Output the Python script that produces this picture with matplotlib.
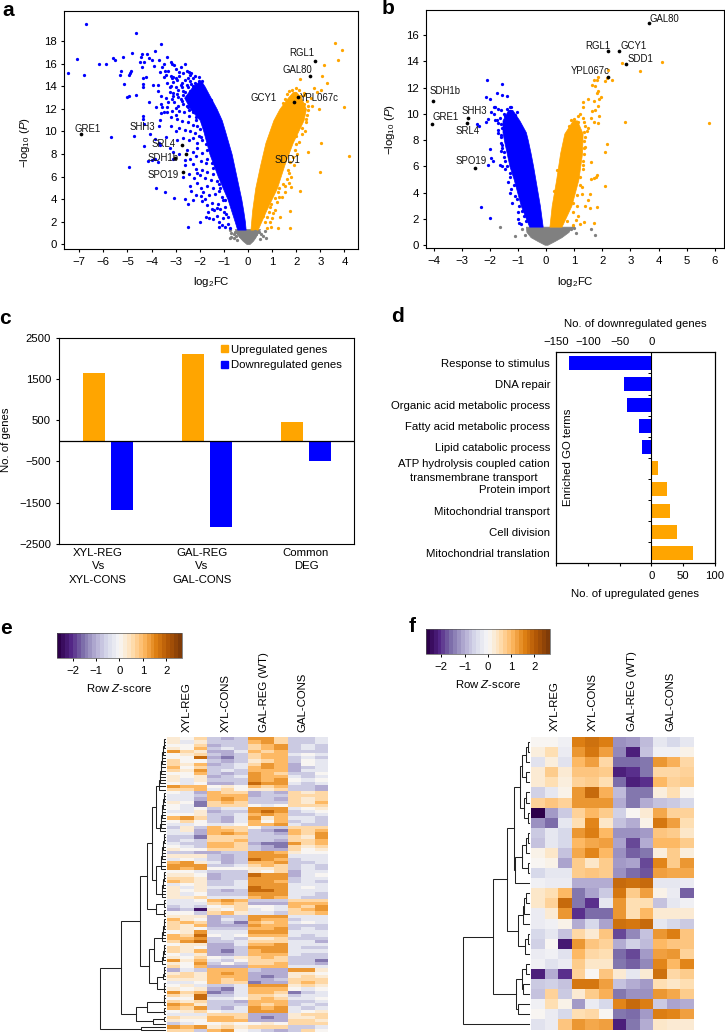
import matplotlib
matplotlib.use("Agg")
import matplotlib.pyplot as plt
import numpy as np
from matplotlib.cm import ScalarMappable
from matplotlib.colors import Normalize
from matplotlib.patches import Patch

W, H = 725, 1032
ORANGE = "#FFA500"
BLUE = "#0000FF"
GREY = "#808080"
FONT = 8.2

plt.rcParams["font.family"] = ["Liberation Sans", "DejaVu Sans"]
plt.rcParams["font.size"] = FONT
plt.rcParams["mathtext.fontset"] = "custom"
plt.rcParams["mathtext.rm"] = "Liberation Sans"
plt.rcParams["mathtext.it"] = "Liberation Sans:italic"
plt.rcParams["mathtext.bf"] = "Liberation Sans:bold"
plt.rcParams["axes.linewidth"] = 0.8
plt.rcParams["xtick.major.size"] = 2.5
plt.rcParams["ytick.major.size"] = 2.5
plt.rcParams["xtick.major.pad"] = 3
plt.rcParams["ytick.major.pad"] = 3

# panel a: dense core of each cloud as edges per level, loose points listed
a_down_level = [1.3, 2, 3, 4, 6, 8, 10, 11, 12, 13, 14, 14.5]
a_down_outer = [-0.45, -0.55, -0.7, -0.85, -1.25, -1.6, -1.85, -2.0, -2.4, -2.65, -2.3, -2.0]
a_down_inner = [-0.1, -0.13, -0.2, -0.28, -0.48, -0.68, -0.95, -1.09, -1.3, -1.55, -1.8, -1.95]
a_up_level = [1.3, 3, 5, 7, 9, 11, 12, 13, 13.5]
a_up_inner = [0.1, 0.17, 0.3, 0.5, 0.72, 1.05, 1.3, 1.65, 1.85]
a_up_outer = [0.4, 0.75, 1.2, 1.5, 1.85, 2.3, 2.4, 2.2, 2.0]
a_grey_level = [0.02, 0.3, 0.6, 1.0, 1.35]
a_grey_left = [-0.06, -0.22, -0.35, -0.5, -0.55]
a_grey_right = [0.06, 0.2, 0.3, 0.4, 0.5]

a_down = [
    (-6.7, 19.5), (-4.65, 18.7), (-3.6, 17.75), (-7.1, 16.45), (-7.45, 15.2), (-6.8, 15), (-6.2, 16), (-5.9, 16),
    (-5.6, 16.5), (-5.5, 16.3), (-5.2, 16.6), (-5.25, 15.35), (-5.3, 15.05), (-4.8, 17), (-4.85, 15.4), (-4.9, 15.2),
    (-4.95, 15), (-5.15, 14.25), (-4.95, 13.15), (-5.0, 13.05), (-4.65, 13.25), (-4.5, 16.2), (-4.45, 16.6),
    (-4.4, 16.9), (-4.2, 16.9), (-4.1, 16.5), (-4, 16.3), (-3.85, 17.1), (-3.7, 16.3), (-4.35, 14.7), (-4.35, 14.2),
    (-4.35, 13.9), (-4.3, 16.2), (-4.4, 15.7), (-4.25, 14.8), (-4.1, 12.6), (-4.35, 11.4), (-4.35, 11.1), (-4.3, 10.7),
    (-3.95, 14.1), (-3.75, 14.1), (-3.75, 13.6), (-3.8, 12.2), (-3.6, 12.4), (-3.55, 12.2), (-3.6, 11.6), (-3.5, 11.7),
    (-3.65, 11), (-3.35, 11.7), (-3.7, 10.5), (-5.7, 9.5), (-4.75, 9.6), (-4.3, 8.7), (-4.05, 9.8), (-3.85, 9.3),
    (-3.7, 9.0), (-3.65, 8.8), (-3.25, 8.5), (-3.4, 9.5), (-3.1, 8.2), (-3.1, 7.6), (-4.0, 7.5), (-3.85, 7.6),
    (-4.15, 7.4), (-3.75, 7.3), (-4.95, 6.85), (-3.8, 5.0), (-3.45, 4.6), (-3.05, 4.1), (-2.6, 4.05), (-2.5, 3.6),
    (-2.5, 1.5), (-2.0, 2.0), (-3.2, 16.2), (-3.05, 15.9), (-3.0, 15.5), (-2.8, 15.7), (-2.6, 16.0), (-2.7, 15.2),
    (-2.45, 15.3), (-2.4, 15.0), (-2.35, 15.2), (-3.3, 15.4), (-3.5, 16.0), (-3.45, 15.4), (-3.65, 15.3), (-3.9, 15.8),
    (-3.2, 14.9), (-3.15, 14.7), (-3.1, 14.8), (-3.0, 14.7), (-2.95, 14.6), (-2.85, 14.9), (-2.75, 14.3), (-2.6, 14.6),
    (-2.5, 14.7), (-2.4, 14.5), (-2.35, 14.2), (-2.3, 14.0), (-3.1, 14.4), (-3.2, 14.0), (-3.25, 13.9), (-3.0, 13.9),
    (-2.9, 13.7), (-2.75, 13.9), (-2.6, 13.5), (-2.5, 13.9), (-2.4, 13.6), (-2.2, 14.3), (-2.15, 13.8), (-2.05, 14.5),
    (-2.0, 14.4), (-1.95, 14.2), (-3.25, 13.5), (-3.1, 13.4), (-2.95, 13.3), (-2.7, 13.2), (-2.5, 13.15), (-2.45, 12.9),
    (-2.25, 13.0), (-2.8, 12.9), (-3.15, 12.9), (-3.3, 12.65), (-2.9, 12.3), (-2.7, 12.4), (-2.55, 12.3), (-2.4, 12.5),
    (-2.25, 12.2), (-2.1, 12.6), (-2.0, 12.0), (-1.85, 12.4), (-1.8, 12.8), (-1.65, 13.0), (-1.55, 12.8), (-3.15, 11.8),
    (-3.0, 11.5), (-2.85, 11.8), (-2.65, 11.7), (-2.45, 11.4), (-2.3, 11.7), (-2.15, 11.3), (-2.95, 11.1), (-2.75, 10.9),
    (-2.5, 10.8), (-2.3, 10.6), (-2.1, 10.5), (-2.85, 10.3), (-2.6, 10.1), (-2.4, 10.0),
    (-2.2, 9.9), (-2.05, 9.6), (-2.7, 9.4), (-2.45, 9.2), (-2.3, 9.4), (-2.1, 9.0),
    (-1.9, 9.2), (-2.55, 8.4), (-2.3, 8.2), (-2.1, 8.5), (-1.9, 8.1), (-1.7, 8.4),
    (-2.4, 7.6), (-2.15, 7.8), (-1.95, 7.4), (-1.75, 7.2), (-2.6, 7.0), (-2.3, 7.1), (-2.15, 6.7),
    (-1.9, 6.6), (-1.7, 6.4), (-1.45, 6.2), (-2.7, 6.0), (-2.45, 6.2), (-2.0, 6.1), (-1.8, 5.9), (-1.55, 5.7),
    (-2.4, 5.2), (-2.1, 5.4), (-1.95, 5.0), (-1.7, 5.2), (-1.45, 5.0), (-1.2, 5.3), (-2.35, 4.7),
    (-2.15, 4.4), (-1.85, 4.6), (-1.6, 4.4), (-1.35, 4.5), (-1.2, 4.7), (-2.3, 3.9), (-1.9, 3.8), (-1.7, 3.5),
    (-1.5, 3.7), (-1.25, 3.6), (-1.05, 3.9), (-1.5, 3.1), (-1.4, 3.0), (-1.3, 3.2), (-1.15, 3.1), (-0.95, 3.3),
    (-1.75, 2.4), (-1.6, 2.3), (-1.3, 2.5), (-1.2, 2.0), (-1.05, 2.3), (-0.9, 2.7), (-0.85, 1.8), (-0.95, 1.5),
    (-0.75, 1.4), (-1.0, 2.9), (-1.1, 4.2), (-1.3, 5.6), (-1.45, 6.8), (-1.7, 7.6), (-1.75, 8.9), (-1.95, 9.5),
    (-2.0, 10.2), (-2.15, 11.0), (-2.45, 11.9), (-2.75, 12.7), (-2.9, 13.05), (-2.7, 13.6), (-2.55, 14.1), (-2.3, 14.7),
    (-2.2, 14.9), (-2.05, 14.8), (-1.9, 14.5), (-2.8, 14.1), (-3.0, 12.1), (-3.4, 13.0), (-3.35, 14.3), (-3.5, 14.8),
    (-3.4, 15.0), (-3.6, 13.1), (-3.35, 12.2), (-3.2, 11.3), (-3.2, 10.5), (-3.0, 10.0), (-2.95, 9.2), (-2.85, 8.0),
    (-2.6, 7.5), (-2.25, 5.9), (-2.1, 6.3), (-1.95, 4.3), (-1.8, 4.0), (-1.65, 2.9), (-1.45, 2.2), (-1.1, 1.7),
    (-1.2, 1.5), (-0.85, 2.4), (-0.95, 3.9), (-1.15, 5.0), (-1.5, 7.2), (-1.9, 10.8), (-2.1, 11.7), (-2.5, 12.2),
    (-3.05, 12.6), (-3.1, 13.15), (-3.55, 15.7), (-3.35, 16.6), (-3.15, 16.0), (-2.85, 15.3), (-2.55, 15.4),
]
a_up = [
    (3.61, 17.88), (3.9, 17.2), (3.72, 16.37), (3.17, 15.9), (3.08, 14.95), (2.17, 14.63), (3.26, 14.33), (2.0, 13.83),
    (2.75, 13.89), (3.03, 13.68), (2.88, 13.48), (1.84, 13.68), (2.32, 13.24), (3.98, 12.2), (2.95, 11.97), (2.64, 12.26),
    (3.04, 8.95), (2.48, 8.19), (4.19, 7.86), (2.97, 6.38), (1.78, 5.11), (2.17, 4.7), (1.73, 2.98), (1.73, 1.48),
    (1.26, 1.48), (0.97, 1.57), (0.77, 1.42), (1.33, 2.45), (1.05, 2.75), (1.12, 3.04), (0.77, 2.45), (0.98, 2.3),
    (1.19, 3.78), (1.4, 4.22), (1.53, 4.67), (0.95, 3.6), (1.3, 5.0), (1.45, 5.3), (1.6, 5.8), (1.7, 6.3),
    (1.65, 6.6), (1.75, 7.3), (1.85, 7.7), (1.95, 8.4), (2.0, 8.9), (2.1, 9.1), (2.25, 9.8), (2.25, 10.3),
    (2.4, 10.8), (2.45, 11.5), (2.5, 11.9), (2.3, 12.4), (2.45, 12.7), (2.6, 13.0), (2.3, 13.4), (2.15, 13.1),
    (1.7, 13.55), (1.6, 13.3), (1.55, 12.9), (1.45, 12.5), (2.4, 11.1), (2.35, 10.0), (2.0, 9.6), (1.9, 7.0),
    (1.8, 6.0), (1.55, 5.2), (1.3, 4.2), (1.1, 4.1), (0.85, 2.9), (0.7, 2.0), (0.9, 3.3), (1.25, 4.6),
    (2.1, 13.7), (1.95, 13.4), (2.5, 12.3), (2.05, 8.0), (1.7, 5.4), (0.6, 2.5), (0.9, 2.0),
]
a_grey = [
    (-0.75, 1.25), (-0.7, 1.0), (-0.75, 0.55), (-0.7, 0.6), (-0.6, 0.55), (-0.55, 1.1), (-0.5, 0.75), (-0.45, 0.4),
    (-0.4, 1.0), (-0.35, 0.7), (0.35, 0.9), (0.45, 1.1), (0.55, 0.9), (0.7, 1.2), (0.75, 0.55), (0.5, 0.5),
    (0.6, 0.7), (-0.6, 0.9), (0.3, 1.2),
]
a_genes = ["GRE1", "SHH3", "SRL4", "SDH1b", "SPO19", "SDD1", "RGL1", "GAL80", "GCY1", "YPL067c"]
a_gene_x = [-6.92, -2.56, -2.75, -3.03, -2.7, 1.5, 2.78, 2.57, 1.9, 2.06]
a_gene_y = [9.78, 8.03, 8.8, 7.62, 6.41, 7.9, 16.27, 14.9, 12.6, 13.09]
a_offset = [(6, 5.3), (-44, 27), (-17.7, 0.7), (-11.7, 0.7), (-20, -3), (3.3, -4.7), (-13.3, 8), (-12.7, 5.7), (-30.7, 3.7), (21.3, -1.7)]

# panel b
b_down_level = [1.4, 3, 5, 6, 7, 8, 8.6, 9.5, 10.3]
b_down_outer = [-0.6, -0.9, -1.15, -1.3, -1.4, -1.5, -1.55, -1.55, -1.35]
b_down_inner = [-0.12, -0.22, -0.38, -0.46, -0.55, -0.65, -0.72, -0.95, -1.2]
b_up_level = [1.4, 3, 5, 7, 8.5, 9.5]
b_up_inner = [0.12, 0.2, 0.36, 0.5, 0.65, 0.95]
b_up_outer = [0.55, 0.9, 1.15, 1.28, 1.3, 1.1]
b_grey_level = [0.02, 0.3, 0.6, 1.0, 1.4]
b_grey_left = [-0.05, -0.3, -0.55, -0.7, -0.72]
b_grey_right = [0.05, 0.3, 0.55, 0.8, 0.9]

b_down = [
    (-2.1, 12.55), (-1.55, 12.25), (-1.75, 11.6), (-1.55, 11.4), (-1.4, 11.35), (-2.15, 11.3), (-2.0, 11.1), (-1.85, 10.5),
    (-1.8, 10.5), (-1.7, 10.4), (-1.6, 10.25), (-1.3, 10.2), (-1.3, 10.55), (-1.25, 10.55), (-1.95, 10.1), (-2.05, 9.6),
    (-2.15, 9.4), (-1.8, 9.55), (-1.85, 10), (-1.75, 9.5), (-1.7, 9.3), (-2.45, 9.2), (-2.4, 9.05), (-1.7, 8.8),
    (-1.7, 8.5), (-1.6, 8.4), (-1.6, 7.8), (-1.55, 7.4), (-1.6, 7.2), (-1.5, 7.1), (-2.0, 7.3), (-1.95, 6.6),
    (-1.9, 6.4), (-2.05, 6.1), (-1.65, 6.1), (-1.55, 6.0), (-1.4, 6.0), (-1.45, 5.8), (-1.3, 5.2), (-1.35, 4.8),
    (-2.3, 2.9), (-2.0, 2.05), (-1.0, 2.0), (-0.95, 1.7), (-0.9, 1.6), (-0.85, 2.6), (-0.95, 3.0), (-1.1, 3.7),
    (-1.3, 5.5), (-1.25, 4.3), (-1.15, 4.6), (-1.05, 3.5), (-0.8, 2.2), (-0.7, 1.8), (-1.45, 9.8), (-1.2, 9.6),
    (-1.1, 9.9), (-1.05, 10.1), (-1.6, 9.2), (-1.55, 8.9), (-1.6, 8.2), (-1.5, 6.7), (-1.45, 6.4), (-1.55, 7.6),
    (-1.5, 10.0), (-1.65, 9.7), (-1.4, 10.4), (-0.85, 8.6), (-0.8, 8.3), (-0.75, 7.7), (-0.7, 7.2), (-0.6, 6.4),
    (-0.5, 5.6), (-0.42, 4.6), (-1.0, 9.3), (-0.95, 8.9), (-1.2, 3.2), (-1.0, 2.5), (-1.3, 4.0),
]
b_up = [
    (5.8, 9.3), (4.12, 13.95), (3.33, 13.25), (2.7, 13.85), (2.2, 13.3), (2.35, 12.55), (2.15, 12.7), (1.85, 12.8),
    (1.8, 12.55), (1.7, 12.6), (1.65, 12.2), (1.75, 12.15), (2.1, 12.5), (1.85, 11.7), (1.8, 11.6), (1.95, 11.3),
    (1.9, 11.1), (1.5, 11.15), (1.7, 11.0), (1.3, 10.9), (1.3, 10.5), (1.85, 10.6), (1.75, 10.3), (1.65, 10.2),
    (1.9, 9.8), (1.6, 9.7), (1.7, 9.4), (1.85, 9.3), (2.8, 9.4), (2.15, 7.7), (2.1, 7.05), (1.6, 6.35),
    (1.8, 5.3), (1.78, 5.15), (1.6, 5.0), (1.7, 5.1), (2.08, 4.5), (1.27, 4.4), (1.27, 3.9), (1.55, 3.85),
    (1.5, 3.45), (1.4, 3.0), (1.55, 2.85), (1.8, 2.9), (1.7, 1.7), (1.35, 1.75), (1.15, 2.2), (1.05, 1.9),
    (0.95, 1.55), (1.2, 1.6), (1.0, 9.6), (1.15, 9.4), (1.3, 9.7), (1.4, 9.1), (1.5, 8.9), (1.35, 8.6),
    (1.45, 8.7), (1.4, 8.2), (1.35, 7.9), (1.35, 7.4), (1.35, 6.9), (1.3, 6.4), (1.3, 5.8), (1.2, 5.2),
    (1.2, 4.6), (1.1, 3.8), (0.95, 3.2), (0.95, 2.5), (0.75, 1.8), (1.1, 3.0), (0.8, 9.1), (0.9, 9.5),
    (1.15, 9.8), (1.2, 10.0), (1.35, 9.35), (1.4, 7.5), (1.32, 6.1), (0.8, 8.8), (0.4, 5.7), (0.28, 4.1),
]
b_grey = [(-1.65, 1.4), (-1.12, 0.7), (1.6, 1.2), (1.75, 0.75), (1.0, 1.3), (0.95, 1.35), (0.9, 1.2), (-0.85, 1.2), (-0.75, 0.8), (1.05, 0.95)]
b_genes = ["GAL80", "RGL1", "GCY1", "SDD1", "YPL067c", "SDH1b", "GRE1", "SHH3", "SRL4", "SPO19"]
b_gene_x = [3.67, 2.19, 2.61, 2.85, 2.19, -4.03, -4.07, -2.79, -2.81, -2.51]
b_gene_y = [16.88, 14.82, 14.77, 13.76, 12.84, 10.99, 9.19, 9.67, 9.31, 5.84]
b_offset = [(15, 4.3), (-9.7, 5), (13.7, 4.7), (14, 5.3), (-17, 5.7), (12, 10), (14, 7.7), (6.3, 7.3), (0.7, -8.3), (-4.3, 7.7)]

# panel c
c_groups = ["XYL-REG\nVs\nXYL-CONS", "GAL-REG\nVs\nGAL-CONS", "Common\nDEG"]
c_up = [1640, 2110, 450]
c_down = [-1680, -2090, -500]

# panel d
d_terms = [
    "Response to stimulus", "DNA repair", "Organic acid metabolic process", "Fatty acid metabolic process",
    "Lipid catabolic process", "ATP hydrolysis coupled cation\ntransmembrane transport", "Protein import",
    "Mitochondrial transport", "Cell division", "Mitochondrial translation",
]
d_values = [-130, -43, -38, -20, -15, 11, 25, 30, 40, 66]

# panels e, f: rows of z-scores, e as one character per cell
heat_columns = ["XYL-REG", "XYL-CONS", "GAL-REG (WT)", "GAL-CONS"]
e_scale = dict(zip("0123456789x", [-2.4, -1.5, -1.05, -0.7, -0.3, 0.0, 0.3, 0.65, 1.0, 1.4, 1.85]))
e_rows = [
    "657323997334", "646333897334", "557233789343", "658343789343", "976224878333", "567323788454",
    "55x213788343", "755323678354", "768234798254", "857334898234", "769343888244", "558323987335",
    "656234988434", "646333989545", "545223x99434", "988565878332", "778475667332", "542877232767",
    "443888233777", "442898332767", "651787333768", "541777545777", "545344999456", "4462339x9345",
    "556334898334", "897324968443", "575324858343", "445445889433", "363877533777", "462887321878",
    "442898332879", "331777333769", "343778332778",
    "433887211978", "543887321767", "655777322756", "332233998655", "666323999444", "454323x98344",
    "896423889334", "999334787343", "989555667343", "554333657244", "665233x99245", "776233999344",
    "876334998343", "456334999444", "646444x99454", "656323xx9444", "645333999443", "667444898433",
    "445898333777", "444787222888", "343567554879", "230657454789", "553786443778", "666233999444",
    "865243988344", "787231878454", "768222988333", "765333889343", "569444999444", "87x545888434",
    "889343667333", "79x334777442", "566224889444", "765223999433", "768213899444", "546223888433",
    "657546787333", "968435777331", "659353778332", "758222888444", "243888322996", "676898222665",
    "776888212676", "666878223777", "445877122787", "564334999676", "656214888545", "978124887134",
    "76x334776344", "55x445787445", "767332888334", "986333878343", "879324989434", "567544999456",
    "444777222677", "766887212667", "655888222776", "345565565777", "989676777334", "773895432375",
]
f_rows = [
    [0.0, 0.0, -0.1, 1.6, 1.8, 1.6, -1.3, -1.2, -0.9, -0.3, -0.5, -0.3],
    [0.2, 0.5, -0.2, 1.4, 1.7, 1.3, -1.4, -2.2, -0.8, -0.1, -0.1, 0.1],
    [-0.4, 0.2, -0.4, 1.0, 1.3, 0.6, -1.6, -1.6, -1.5, 1.4, 1.1, 0.6],
    [0.3, 0.8, 0.3, 0.9, 0.9, 0.8, -2.2, -2.0, -1.5, 0.6, 0.6, 0.7],
    [0.3, 0.5, 0.2, 0.7, 0.8, 0.5, -1.6, -2.2, -2.0, 1.0, 0.7, 0.8],
    [-0.6, -0.3, 0.1, 1.4, 1.9, 1.1, -0.9, -1.5, -1.5, 0.2, 0.5, 0.0],
    [0.7, 0.9, 0.7, 1.4, 1.4, 1.4, -1.0, -1.5, -1.0, -0.8, -0.7, -0.5],
    [-2.6, -1.2, -0.7, 0.7, 1.0, 0.8, -0.6, 0.0, 0.3, 1.2, 0.7, 0.7],
    [-1.3, -1.6, -0.3, 0.5, 1.5, 0.4, -0.8, -1.0, 0.1, 1.7, 1.3, 0.5],
    [-0.7, -0.3, -0.5, 1.4, 1.6, 1.0, -1.3, -1.3, -1.2, 0.9, 0.8, 0.4],
    [-0.8, -0.3, -0.5, 1.0, 1.2, 1.3, -1.1, -1.9, -1.0, 1.0, 1.0, 0.8],
    [0.1, 0.4, -0.8, 1.2, 1.5, 1.0, -1.3, -1.7, -1.5, 0.2, 0.8, 0.2],
    [0.0, 0.1, -1.1, 0.8, 0.4, 0.8, -1.2, -1.1, -1.9, 1.5, 0.8, 1.4],
    [-0.5, -0.3, -0.3, 0.8, 0.9, 0.8, -1.3, -1.6, -1.8, 1.3, 1.2, 1.2],
    [-0.1, -0.2, -0.2, -1.0, -1.0, -1.0, 1.9, 1.8, 1.9, -0.3, -0.3, -0.2],
    [0.4, 0.5, 1.0, -1.5, -1.1, -0.7, 1.7, 0.8, 1.3, 0.1, -0.2, -1.7],
    [0.4, 0.7, 1.9, -1.5, -2.0, -0.3, 1.4, 0.5, 0.5, -0.8, -0.3, -0.1],
    [-0.2, 0.3, 1.4, -2.0, -1.6, -1.6, 1.4, 0.5, 1.0, 0.3, 0.3, 0.3],
    [-0.2, -0.1, 0.1, -1.0, -0.5, -1.1, 1.8, 1.7, 1.9, -0.3, -0.5, -0.7],
    [-0.5, -0.3, -0.8, 0.6, 0.3, 0.9, -1.9, -1.4, -0.8, 1.4, 1.6, 0.9],
    [-0.6, 0.0, -2.3, 1.4, 0.9, 0.7, -1.0, -0.6, -0.9, 1.0, 0.9, 0.9],
    [-0.2, -0.1, -0.4, 1.0, 0.6, 0.5, -1.6, -1.9, -1.2, 1.3, 1.4, 0.7],
    [-0.1, -0.4, -0.2, 0.8, 0.4, 0.4, -1.5, -1.7, -1.4, 1.5, 1.0, 1.5],
    [-2.2, -1.0, -2.0, 0.7, 0.0, 0.9, 0.3, -0.3, 0.3, 1.8, 0.6, 0.8],
    [-0.7, -0.6, -0.8, 1.7, 1.7, 1.3, -0.8, -1.0, -1.2, 0.5, 0.4, 0.5],
    [-0.8, 0.7, -0.7, 0.3, 0.8, 1.1, -1.5, -1.3, -1.3, 1.4, 1.2, 0.8],
    [-0.1, 0.5, 0.1, -1.2, -0.2, -0.5, 1.5, 1.9, 1.6, -0.7, -1.1, -1.0],
    [0.0, -0.2, -0.5, 0.5, 0.6, 0.0, -1.5, -1.6, -1.2, 1.6, 1.5, 1.3],
    [-0.4, -0.2, 0.9, 1.4, 1.2, 1.3, -2.2, -1.5, -1.0, 0.4, 0.3, 0.3],
]

# dendrograms: (link height, child, child), child = row number or another link
f_tree = (65.3,
    (36,
        (21.3,
            (14.3,
                (9, (6.7, (2.7, (0.7, 0, 1), 2), (2.7, 3, 4)), (5, (2.7, 5, 6), (1, 7, 8))),
                (14, (6.3, (2.7, (1, 9, 10), 11), (1, 12, 13)), 14)),
            (11, (5.3, (4.3, (2.3, 15, 16), 17), 18), (3.3, (1, 19, 20), 21))),
        (12.7, (6.7, (2.7, 22, 23), (5.3, 24, 25)), (10.7, 26, 27))),
    28)
e_twigs = [0.8, 1.2, 1.5, 1.9, 2.2, 2.6, 3.0, 3.3, 3.7, 4.0, 4.4, 4.8, 5.1, 5.5, 5.8, 6.2, 6.5, 7.0, 7.4, 7.8]


def run(first, last):
    node = first
    for i in range(first + 1, last + 1):
        node = (e_twigs[min(i - first - 1, len(e_twigs) - 1)], node, i)
    return node


e_tree = (65,
    (44,
        (25.3,
            (18,
                (13, (9, run(0, 16), run(17, 29)), (9, run(30, 41), run(42, 50))),
                (9, run(51, 53), run(54, 56))),
            (16, (11, run(57, 64), run(65, 71)), (8, run(72, 76), run(77, 80)))),
        (29, (18, run(81, 84), run(85, 87)), (12, run(88, 89), 90))),
    (24, 91, 92))


def axes_px(left, top, right, bottom):
    return fig.add_axes([left / W, 1 - bottom / H, (right - left) / W, (bottom - top) / H])


def text_px(x, y, s, **kwargs):
    kwargs.setdefault("ha", "center")
    kwargs.setdefault("va", "center")
    fig.text(x / W, 1 - y / H, s, **kwargs)


def volcano(ax, down, up, grey, core, genes, gene_x, gene_y, offsets):
    for level, lo, hi, colour in core:
        ax.fill_betweenx(level, lo, hi, color=colour, linewidth=0.5, zorder=2)
    for points, colour in [(grey, GREY), (down, BLUE), (up, ORANGE)]:
        xs, ys = np.array(points).T
        ax.scatter(xs, ys, s=5.5, c=colour, linewidths=0, zorder=3)
    for name, x, y, off in zip(genes, gene_x, gene_y, offsets):
        # SDD1 sits inside the orange cloud in panel a
        z = 1 if (name == "SDD1" and ax is ax_a) else 4
        ax.scatter([x], [y], s=7, c="black", linewidths=0, zorder=z)
        ax.annotate(name, (x, y), xytext=off, textcoords="offset pixels", ha="center", va="center",
                    fontsize=6.9, color="#111111", zorder=5)


def draw_tree(ax, node):
    if isinstance(node, int):
        return node + 0.5, 0
    height, left, right = node
    y1, h1 = draw_tree(ax, left)
    y2, h2 = draw_tree(ax, right)
    ax.plot([h1, height, height, h2], [y1, y1, y2, y2], color="#222222", lw=0.75, clip_on=False, solid_joinstyle="miter")
    return (y1 + y2) / 2, height


def heatmap(rows, tree, box, tree_box, column_x, label_bottom, bar_box, bar_label):
    data = np.array(rows, dtype=float)
    cmap = plt.get_cmap("PuOr_r", 64)
    ax = axes_px(*box)
    ax.pcolormesh(data, cmap=cmap, vmin=-2.66, vmax=2.66, linewidth=0, rasterized=True)
    ax.set_ylim(len(rows), 0)
    ax.axis("off")
    tree_ax = axes_px(*tree_box)
    draw_tree(tree_ax, tree)
    tree_ax.set_xlim(tree[0] + 0.3, 0)
    tree_ax.set_ylim(len(rows), 0)
    tree_ax.axis("off")
    for name, x in zip(heat_columns, column_x):
        text_px(x, label_bottom, name, rotation=90, va="bottom", fontsize=FONT)
    cax = axes_px(*bar_box)
    bar = fig.colorbar(ScalarMappable(Normalize(-2.66, 2.66), plt.get_cmap("PuOr_r", 32)), cax=cax, orientation="horizontal")
    bar.set_ticks([-2, -1, 0, 1, 2])
    bar.ax.tick_params(length=2.5, width=0.7, pad=3, labelsize=FONT)
    bar.outline.set_linewidth(0.5)
    bar.outline.set_edgecolor("#555555")
    text_px(bar_label[0], bar_label[1], "Row $\\mathit{Z}$-score", fontsize=FONT)


fig = plt.figure(figsize=(W / 100, H / 100), dpi=100)

# a
ax_a = axes_px(64.3, 11, 358, 249)
volcano(ax_a, a_down, a_up, a_grey,
        [(a_grey_level, a_grey_left, a_grey_right, GREY),
         (a_down_level, a_down_outer, a_down_inner, BLUE),
         (a_up_level, a_up_inner, a_up_outer, ORANGE)],
        a_genes, a_gene_x, a_gene_y, a_offset)
ax_a.set_xlim(-7.62, 4.56)
ax_a.set_ylim(-0.42, 20.68)
ax_a.set_xticks(range(-7, 5))
ax_a.set_yticks(range(0, 19, 2))
text_px(211, 282, "log$_2$FC", fontsize=FONT)
text_px(25, 143, "$-$log$_{10}$ ($\\mathit{P}$)", rotation=90, fontsize=FONT)

# b
ax_b = axes_px(426.3, 9.7, 724.3, 248.3)
volcano(ax_b, b_down, b_up, b_grey,
        [(b_grey_level, b_grey_left, b_grey_right, GREY),
         (b_down_level, b_down_outer, b_down_inner, BLUE),
         (b_up_level, b_up_inner, b_up_outer, ORANGE)],
        b_genes, b_gene_x, b_gene_y, b_offset)
ax_b.set_xlim(-4.26, 6.34)
ax_b.set_ylim(-0.25, 17.93)
ax_b.set_xticks(range(-4, 7))
ax_b.set_yticks(range(0, 17, 2))
text_px(575, 282, "log$_2$FC", fontsize=FONT)
text_px(390, 130, "$-$log$_{10}$ ($\\mathit{P}$)", rotation=90, fontsize=FONT)

# c
ax_c = axes_px(58.7, 337.7, 354.3, 544)
positions = np.arange(len(c_groups))
ax_c.bar(positions - 0.143, c_up, width=0.222, color=ORANGE)
ax_c.bar(positions + 0.143, c_down, width=0.222, color=BLUE)
ax_c.axhline(0, color="black", lw=0.9)
ax_c.set_xlim(-0.498, 2.488)
ax_c.set_ylim(-2500, 2500)
ax_c.set_yticks([-2500, -1500, -500, 500, 1500, 2500])
ax_c.set_xticks([-0.1, 0.95, 2.0])
ax_c.set_xticklabels(c_groups, linespacing=1.4)
ax_c.tick_params(axis="x", length=0, pad=3)
ax_c.legend(
    handles=[Patch(color=ORANGE, label="Upregulated genes"), Patch(color=BLUE, label="Downregulated genes")],
    loc="upper left", bbox_to_anchor=(0.527, 1.0), frameon=False, fontsize=FONT,
    handlelength=0.55, handleheight=0.55, handletextpad=0.33, labelspacing=0.5, borderpad=0.4, borderaxespad=0.2,
)
text_px(6, 440, "No. of genes", rotation=90, fontsize=FONT)

# d
ax_d = axes_px(556, 352.3, 715, 563.3)
rows_d = np.arange(len(d_terms))
ax_d.barh(rows_d, d_values, height=0.66, color=[BLUE if v < 0 else ORANGE for v in d_values])
ax_d.axvline(0, color="black", lw=0.8)
ax_d.plot(np.zeros(len(d_terms) - 1), rows_d[:-1] + 0.5, ls="", marker=0, ms=2, mew=0.7, color="black")
ax_d.set_ylim(len(d_terms) - 0.5, -0.5)
ax_d.set_xlim(-150, 100)
ax_d.set_yticks(rows_d)
ax_d.set_yticklabels(d_terms, multialignment="center", linespacing=1.4)
ax_d.tick_params(axis="y", length=0, pad=4.3)
ax_d.set_xticks([-150, -100, -50, 0, 50, 100])
ax_d.set_xticklabels(["", "", "", "0", "50", "100"])
top_d = ax_d.twiny()
top_d.set_xlim(-150, 100)
top_d.set_xticks([-150, -100, -50, 0])
top_d.tick_params(axis="x", length=0, pad=3.5)
text_px(635, 324, "No. of downregulated genes", fontsize=FONT)
text_px(635, 594, "No. of upregulated genes", fontsize=FONT)
text_px(568, 457, "Enriched GO terms", rotation=90, fontsize=FONT)

# e
e_data = [[e_scale[c] for c in row] for row in e_rows]
heatmap(e_data, e_tree, (166.7, 737.3, 328.3, 1031.7), (100, 737.3, 165, 1031.7),
        [187, 225.7, 264.3, 302.7], 732, (57.3, 633.3, 181.7, 658), (119, 688))

# f
heatmap(f_rows, f_tree, (531, 737, 694, 1029.5), (463, 737, 528.7, 1029.5),
        [554.7, 593, 632, 670.7], 731, (426, 629.3, 549.7, 654), (488, 684))

for letter, x, y in [("a", 8, 10), ("b", 388, 9), ("c", 5, 318), ("d", 397, 317), ("e", 6, 629), ("f", 412, 627)]:
    text_px(x, y, letter, fontsize=15, fontweight="bold")

fig.savefig("out.png", dpi=100)
